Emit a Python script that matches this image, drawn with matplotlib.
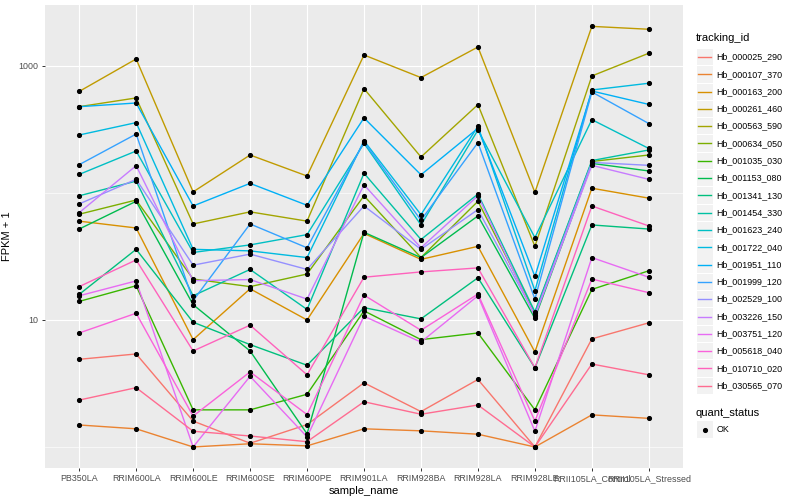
import matplotlib.pyplot as plt
from matplotlib.lines import Line2D
from matplotlib.patches import Rectangle
from matplotlib.ticker import FixedLocator, FixedFormatter, NullFormatter

plt.rcParams['font.family'] = ['Liberation Sans', 'DejaVu Sans']

samples = ["PB350LA", "RRIM600LA", "RRIM600LE", "RRIM600SE", "RRIM600PE", "RRIM901LA",
           "RRIM928BA", "RRIM928LA", "RRIM928LE", "RRII105LA_Control", "RRII105LA_Stressed"]

tracking_ids = ["Hb_000025_290", "Hb_000107_370", "Hb_000163_200", "Hb_000261_460",
                "Hb_000563_590", "Hb_000634_050", "Hb_001035_030", "Hb_001153_080",
                "Hb_001341_130", "Hb_001454_330", "Hb_001623_240", "Hb_001722_040",
                "Hb_001951_110", "Hb_001999_120", "Hb_002529_100", "Hb_003226_150",
                "Hb_003751_120", "Hb_005618_040", "Hb_010710_020", "Hb_030565_070"]

# FPKM + 1, one list per gene, in sample order
hb_000025_290 = [4.9, 5.4, 1.6, 1.07, 1.5, 3.2, 1.9, 3.4, 1.0, 7.1, 9.5]
hb_000107_370 = [1.49, 1.39, 1.0, 1.06, 1.02, 1.39, 1.34, 1.26, 1.0, 1.79, 1.68]
hb_000163_200 = [60, 53, 7.0, 17.6, 10, 48, 30, 38, 5.6, 109, 91]
hb_000261_460 = [630, 1135, 102, 199, 136, 1220, 810, 1410, 101, 2050, 1945]
hb_000563_590 = [478, 560, 57, 71, 60, 663, 192, 496, 38, 834, 1260]
hb_000634_050 = [68, 88, 21, 18.3, 23, 95, 31, 86, 11.4, 177, 199]
hb_001035_030 = [14, 18.6, 1.96, 1.96, 2.6, 11.8, 7.0, 7.9, 1.96, 17.4, 24.4]
hb_001153_080 = [52, 86, 13.2, 5.7, 1.27, 49, 31, 66, 10.3, 171, 149]
hb_001341_130 = [15.9, 36, 9.6, 6.4, 4.4, 12.5, 10.2, 21.5, 4.2, 56, 52]
hb_001454_330 = [95, 124, 15.5, 25, 12.1, 143, 43, 98, 11.6, 180, 218]
hb_001623_240 = [140, 214, 34, 39, 47, 246, 56, 313, 44.5, 378, 224]
hb_001722_040 = [286, 358, 36, 35, 31, 258, 67.5, 335, 17, 647, 731]
hb_001951_110 = [478, 511, 79, 119, 80, 390, 139, 323, 22, 635, 498]
hb_001999_120 = [167, 291, 14.2, 57, 37, 252, 61, 249, 14.6, 624, 352]
hb_002529_100 = [82, 128, 27, 33, 25, 79, 36, 74, 11.0, 174, 165]
hb_003226_150 = [70, 164, 20.4, 20.8, 14.6, 116, 37, 95, 10.7, 165, 128]
hb_003751_120 = [15.5, 20.3, 1.0, 3.6, 1.2, 10.7, 6.7, 15.5, 1.33, 31, 21.7]
hb_005618_040 = [7.9, 11.3, 1.75, 3.9, 1.8, 15.7, 8.3, 16, 1.6, 21, 16.4]
hb_010710_020 = [18.3, 29.7, 5.7, 9.1, 3.7, 21.7, 23.9, 25.7, 4.2, 79, 55]
hb_030565_070 = [2.34, 2.93, 1.33, 1.22, 1.1, 2.27, 1.81, 2.14, 1.0, 4.5, 3.7]

series = [hb_000025_290, hb_000107_370, hb_000163_200, hb_000261_460, hb_000563_590,
          hb_000634_050, hb_001035_030, hb_001153_080, hb_001341_130, hb_001454_330,
          hb_001623_240, hb_001722_040, hb_001951_110, hb_001999_120, hb_002529_100,
          hb_003226_150, hb_003751_120, hb_005618_040, hb_010710_020, hb_030565_070]

# ggplot default hue palette for 20 levels
colors = ["#F8766D", "#EA8331", "#D89000", "#C09B00", "#A3A500", "#7CAE00", "#39B600",
          "#00BB4E", "#00BF7D", "#00C1A3", "#00BFC4", "#00BAE0", "#00B0F6", "#35A2FF",
          "#9590FF", "#C77CFF", "#E76BF3", "#FA62DB", "#FF62BC", "#FF6C91"]

W, H = 800, 500
fig = plt.figure(figsize=(8, 5), dpi=100)
ax = fig.add_axes([45 / W, 32 / H, 638 / W, 463 / H])
ax.set_facecolor('#EBEBEB')

x = list(range(len(samples)))
for vals, c in zip(series, colors):
    ax.plot(x, vals, color=c, lw=1.0, zorder=2)
for vals in series:
    ax.plot(x, vals, 'o', color='black', ms=2.7, zorder=3)

ax.set_yscale('log')
ax.set_ylim(0.683, 3020)
ax.set_xlim(-0.6, len(samples) - 0.4)

ax.yaxis.set_major_locator(FixedLocator([10, 1000]))
ax.yaxis.set_major_formatter(FixedFormatter(["10", "1000"]))
ax.yaxis.set_minor_locator(FixedLocator([1, 100]))
ax.yaxis.set_minor_formatter(NullFormatter())
ax.set_xticks(x)
ax.set_xticklabels(samples)

ax.grid(which='major', color='white', lw=0.85)
ax.grid(which='minor', axis='y', color='white', lw=0.45)
ax.set_axisbelow(True)
for s in ax.spines.values():
    s.set_visible(False)
ax.tick_params(which='major', length=2.5, width=0.7, color='#333333',
               labelcolor='#4D4D4D', labelsize=6.4, pad=2)
ax.tick_params(which='minor', length=0)

ax.set_xlabel("sample_name", fontsize=8, labelpad=2)
ax.set_ylabel("FPKM + 1", fontsize=8)
ax.yaxis.set_label_coords(-0.052, 0.5)

# legend drawn ggplot-style
def fx(px):
    return px / W


def fy(py):
    return 1 - py / H


fig.text(fx(696), fy(38), "tracking_id", fontsize=8, va='center', ha='left')
step = 17.3
for i, (name, c) in enumerate(zip(tracking_ids, colors)):
    yc = 57 + i * step
    fig.add_artist(Rectangle((fx(696.5), fy(yc + 8.2)), 16.3 / W, 16.3 / H,
                             transform=fig.transFigure, facecolor='#F2F2F2', edgecolor='none'))
    fig.add_artist(Line2D([fx(698), fx(711)], [fy(yc), fy(yc)], transform=fig.transFigure,
                          color=c, lw=1.0))
    fig.text(fx(716.5), fy(yc), name, fontsize=6.4, va='center', ha='left')

fig.text(fx(696), fy(413), "quant_status", fontsize=8, va='center', ha='left')
fig.add_artist(Rectangle((fx(696.5), fy(429.5 + 8.2)), 16.3 / W, 16.3 / H,
                         transform=fig.transFigure, facecolor='#F2F2F2', edgecolor='none'))
fig.add_artist(Line2D([fx(704.6)], [fy(429.5)], transform=fig.transFigure,
                      marker='o', ms=2.7, color='black', lw=0))
fig.text(fx(716.5), fy(429.5), "OK", fontsize=6.4, va='center', ha='left')

fig.savefig("out.png", dpi=100)
